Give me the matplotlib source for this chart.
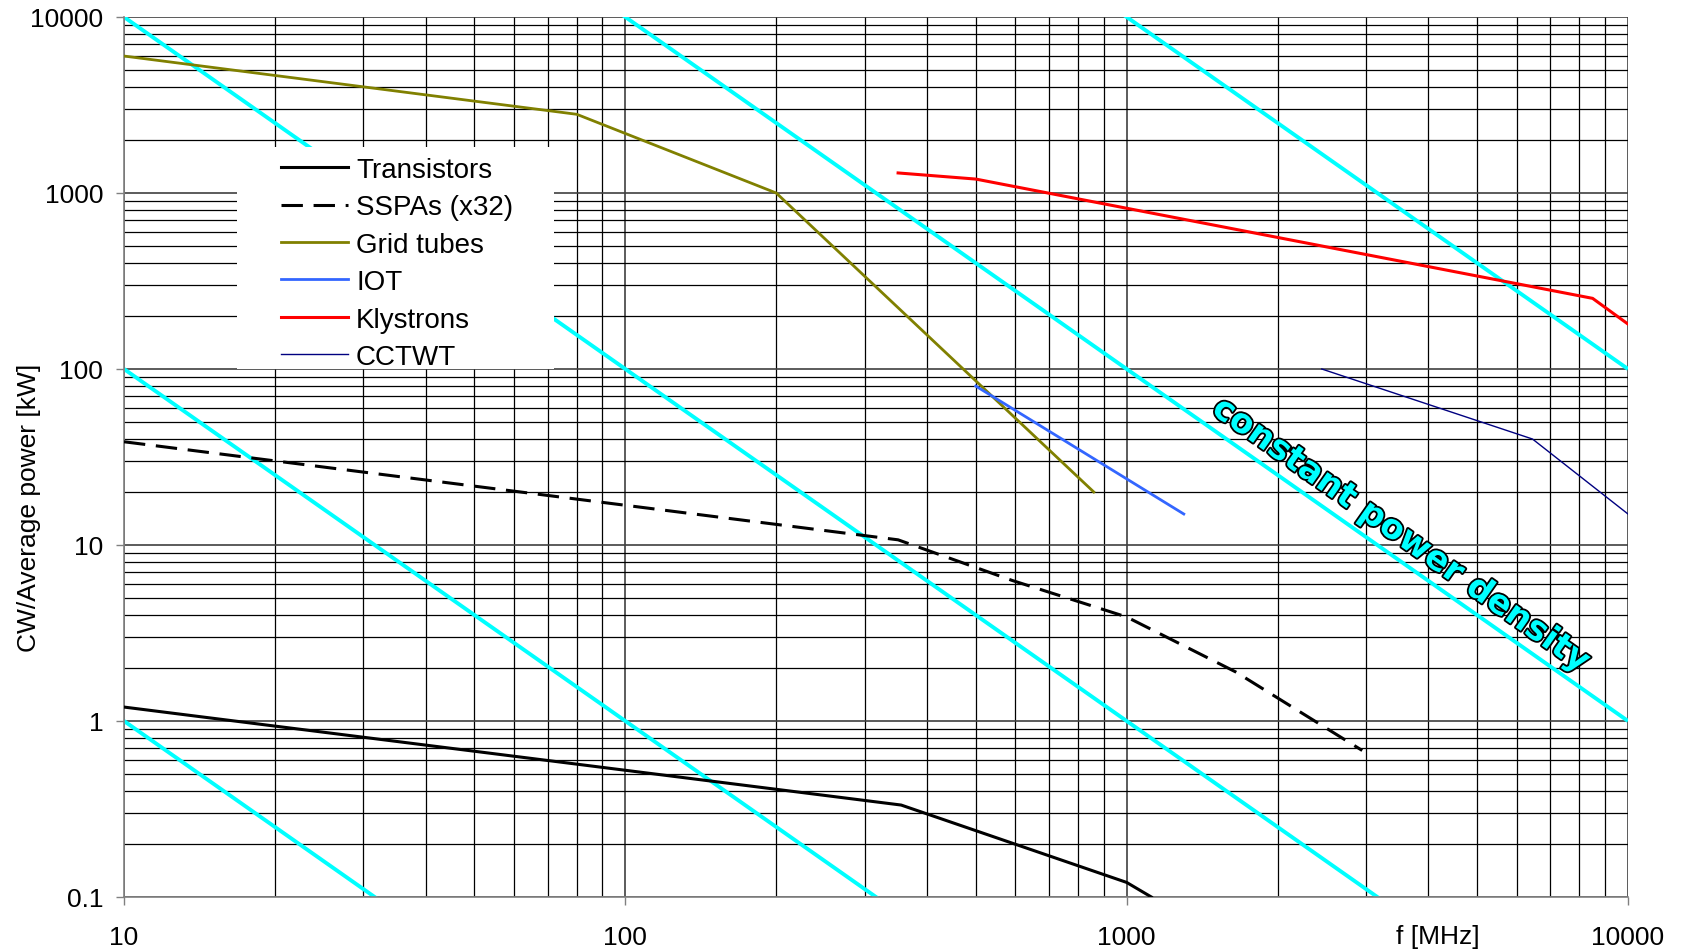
import matplotlib
matplotlib.use("Agg")
import matplotlib.pyplot as plt
import matplotlib.patheffects as pe
from matplotlib.patches import Rectangle
import numpy as np

# data (f in MHz, power in kW)
transistors_f = [10, 355, 1000, 1120]
transistors_p = [1.2, 0.333, 0.121, 0.1]

sspa_f = [10, 350, 590, 1000, 1650, 2950]
sspa_p = [38.6, 10.7, 6.3, 3.9, 1.9, 0.68]

grid_f = [10, 80, 200, 860]
grid_p = [6000, 2800, 1000, 20]

iot_f = [500, 1300]
iot_p = [80, 15]

klystron_f = [350, 500, 8500, 10000]
klystron_p = [1300, 1200, 252, 180]

cctwt_f = [2450, 6450, 10000]
cctwt_p = [100, 40, 15]

# constant power density lines: P = C / f^2
density_consts = [1e2, 1e4, 1e6, 1e8, 1e10]

x_ticks = [10, 100, 1000, 10000]
x_labels = ["10", "100", "1000", "10000"]
y_ticks = [0.1, 1, 10, 100, 1000, 10000]
y_labels = ["0.1", "1", "10", "100", "1000", "10000"]

plt.rcParams['font.family'] = ['Liberation Sans', 'DejaVu Sans']

W, H = 1685, 953
fig = plt.figure(figsize=(W / 100, H / 100), dpi=100)
L, R, T, B = 124, 1628, 18, 898
ax = fig.add_axes([L / W, 1 - B / H, (R - L) / W, (B - T) / H])

ax.set_xscale('log')
ax.set_yscale('log')
ax.set_xlim(10, 10000)
ax.set_ylim(0.1, 10000)

ax.set_axisbelow(True)
ax.grid(True, which='major', color='#404040', lw=1.2)
ax.grid(True, which='minor', color='black', lw=0.9)

# cyan constant power density lines
ff = np.logspace(1, 4, 200)
for c in density_consts:
    ax.plot(ff, c / ff**2, color='#00FFFF', lw=2.8, zorder=1, solid_capstyle='butt')

# white box behind the legend (hides grid and cyan lines)
ax.add_patch(Rectangle(((237 - L) / (R - L), (B - 370) / (B - T)),
                       (554 - 237) / (R - L), (370 - 148) / (B - T),
                       transform=ax.transAxes, facecolor='white', edgecolor='none', zorder=1.5))

ax.plot(transistors_f, transistors_p, color='black', lw=2.2, label='Transistors', zorder=3)
ax.plot(sspa_f, sspa_p, color='black', lw=2.2, ls=(0, (7, 3.5)), label='SSPAs (x32)', zorder=3)
ax.plot(grid_f, grid_p, color='#808000', lw=2.0, label='Grid tubes', zorder=3)
ax.plot(iot_f, iot_p, color='#3366FF', lw=2.0, label='IOT', zorder=3)
ax.plot(klystron_f, klystron_p, color='#FF0000', lw=2.2, label='Klystrons', zorder=3)
ax.plot(cctwt_f, cctwt_p, color='#000080', lw=1.0, label='CCTWT', zorder=3)

leg = ax.legend(loc='upper left', bbox_to_anchor=((281 - L) / (R - L), (B - 158) / (B - T)),
                frameon=False, fontsize=20, handlelength=2.4, handletextpad=0.3,
                labelspacing=0.41, borderpad=0, borderaxespad=0)
leg.set_zorder(5)

ax.set_xticks(x_ticks)
ax.set_xticklabels(x_labels)
ax.set_yticks(y_ticks)
ax.set_yticklabels(y_labels)
ax.tick_params(which='major', direction='out', length=6, width=1, color='#808080',
               labelsize=19, pad=9)
ax.tick_params(axis='x', which='major', pad=14)
ax.tick_params(which='minor', length=0)

for s in ax.spines.values():
    s.set_color('#808080')
    s.set_linewidth(1.2)
ax.spines['top'].set_visible(False)
ax.spines['right'].set_visible(False)

fig.text(29 / W, 1 - 508 / H, 'CW/Average power [kW]', rotation=90,
         ha='center', va='center', fontsize=19)
fig.text(1438 / W, 1 - 937 / H, 'f [MHz]', ha='center', va='center', fontsize=19)

ax.text(3524, 11.4, 'constant power density', rotation=-35.1, rotation_mode='anchor',
        ha='center', va='center', fontsize=24.5, fontweight='bold', family='DejaVu Sans',
        color='#00FFFF', zorder=4,
        path_effects=[pe.withStroke(linewidth=2.6, foreground='black')])

fig.savefig('out.png', dpi=100)
